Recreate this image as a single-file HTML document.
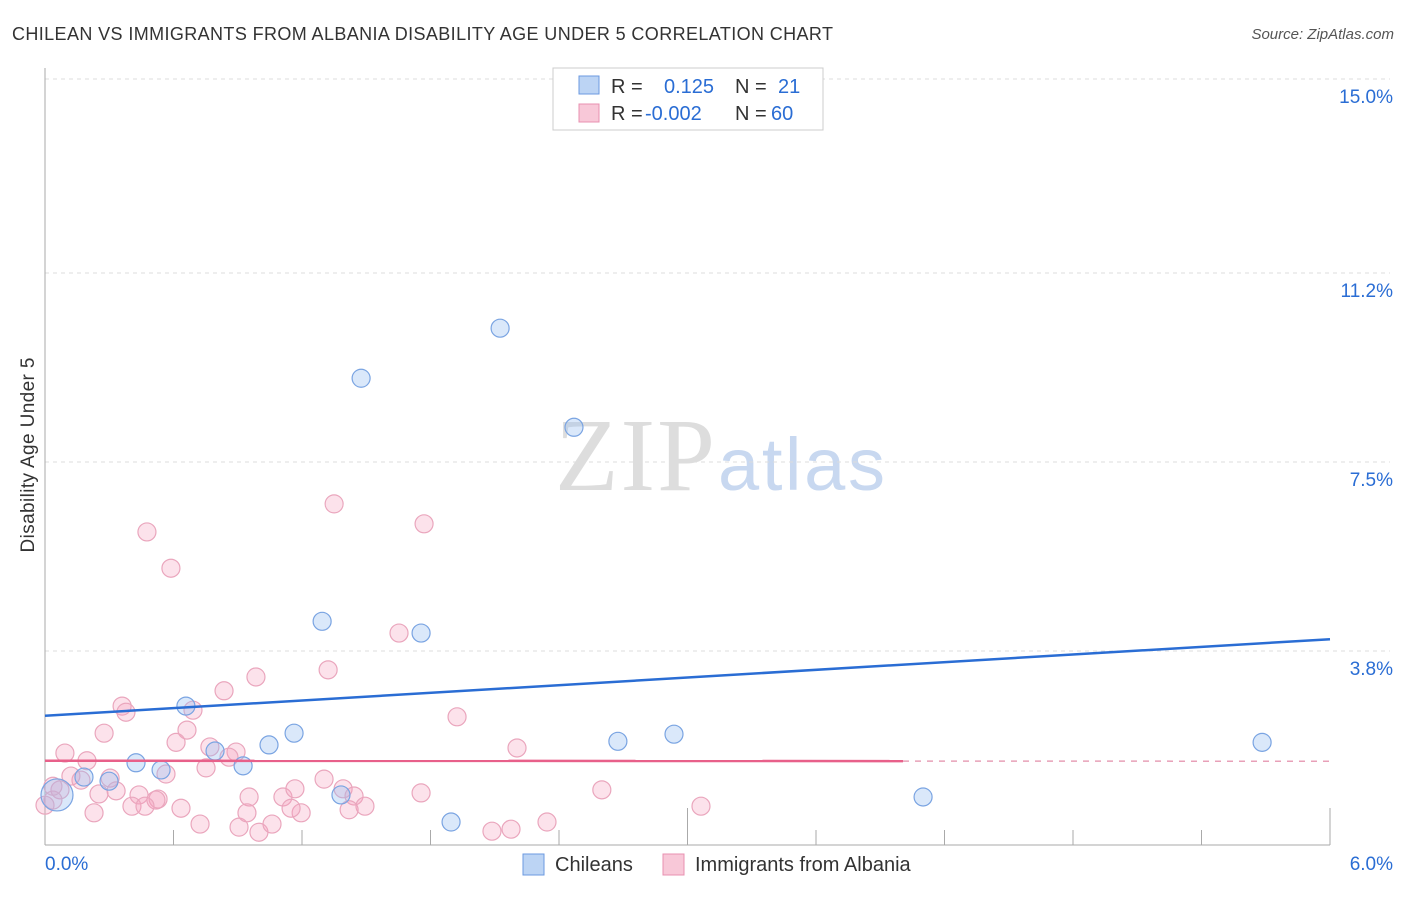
<!DOCTYPE html>
<html><head><meta charset="utf-8"><style>
body{margin:0;background:#fff;font-family:"Liberation Sans",sans-serif}
#c{position:relative;width:1406px;height:892px}
</style></head><body>
<div id="c">
<svg id="s" width="1406" height="892" xmlns="http://www.w3.org/2000/svg">
<text x="12" y="40" font-size="18" fill="#333" textLength="821">CHILEAN VS IMMIGRANTS FROM ALBANIA DISABILITY AGE UNDER 5 CORRELATION CHART</text>
<text x="1394" y="39" font-size="15" fill="#555" font-style="italic" text-anchor="end">Source: ZipAtlas.com</text>
<text x="34" y="455" font-size="19" fill="#333" text-anchor="middle" textLength="195" transform="rotate(-90 34 455)">Disability Age Under 5</text>
<text x="715" y="490" font-size="104" fill="#ddd" font-family="Liberation Serif,serif" text-anchor="end" textLength="160">ZIP</text>
<text x="718" y="490" font-size="74" fill="#c8d8f0" text-anchor="start" textLength="167">atlas</text>
<g id="grid"></g><g id="axes"></g><g id="pts"></g><g id="lines"></g>
<g>
<rect x="553" y="68" width="270" height="62" fill="#fff" stroke="#ccc"/>
<rect x="579" y="76" width="20" height="18" fill="#bcd4f4" stroke="#6b9ae0"/>
<rect x="579" y="104" width="20" height="18" fill="#f8c8d8" stroke="#e890b0"/>
<text x="611" y="93" font-size="20" fill="#333">R =  </text><text x="664" y="93" font-size="20" fill="#2a6dd4">0.125</text>
<text x="735" y="93" font-size="20" fill="#333">N =</text><text x="778" y="93" font-size="20" fill="#2a6dd4">21</text>
<text x="611" y="120" font-size="20" fill="#333">R =</text><text x="645" y="120" font-size="20" fill="#2a6dd4">-0.002</text>
<text x="735" y="120" font-size="20" fill="#333">N =</text><text x="771" y="120" font-size="20" fill="#2a6dd4">60</text>
</g>
<g>
<rect x="523" y="854" width="21" height="21" fill="#bcd4f4" stroke="#6b9ae0"/>
<text x="555" y="871" font-size="20" fill="#333">Chileans</text>
<rect x="663" y="854" width="21" height="21" fill="#f8c8d8" stroke="#e890b0"/>
<text x="695" y="871" font-size="20" fill="#333">Immigrants from Albania</text>
</g>
</svg></div>
<script>
const yTicks=[3.8,7.5,11.2,15.0];
const yTickLabels=["3.8%","7.5%","11.2%","15.0%"];
const xLabels=["0.0%","6.0%"];
const blueX=[2.125,1.476,2.470,1.294,1.756,0.658,1.163,1.046,0.794,0.425,0.542,0.925,0.182,0.299,1.382,2.675,2.937,5.683,4.100,1.896,0.056];
const blueY=[10.12,9.14,8.18,4.38,4.15,2.72,2.19,1.96,1.84,1.61,1.47,1.55,1.33,1.25,0.98,2.03,2.17,2.01,0.94,0.45,0.98];
const blueR=[9,9,9,9,9,9,9,9,9,9,9,9,9,9,9,9,9,9,9,9,16];
const pinkX=[0.476,1.350,1.770,0.588,1.653,1.322,0.985,0.836,0.360,0.378,0.691,1.924,0.276,0.663,0.612,0.770,0.892,2.204,0.093,0.196,0.859,0.752,0.565,0.121,0.304,0.168,0.070,0.037,0.252,0.439,0.332,0.528,0.518,0.406,0.467,0.635,0.953,1.111,1.167,1.303,1.392,1.443,1.494,1.420,1.756,2.600,3.063,0.229,0.724,0.906,0.999,1.060,1.196,1.149,0.943,2.087,2.176,2.344,0.037,0.0];
const pinkY=[6.13,6.68,6.29,5.42,4.15,3.43,3.29,3.02,2.72,2.60,2.64,2.51,2.19,2.25,2.01,1.92,1.82,1.90,1.80,1.65,1.72,1.51,1.39,1.35,1.31,1.27,1.08,0.88,1.00,0.98,1.06,0.90,0.88,0.76,0.76,0.72,0.94,0.94,1.10,1.29,1.10,0.96,0.76,0.69,1.02,1.08,0.76,0.63,0.41,0.35,0.25,0.41,0.63,0.72,0.63,0.27,0.31,0.45,1.15,0.78];
const blueTrend=[2.53,4.03];
const pinkTrend=[1.65,1.64];
const X0=45,X1=1330,Y0=845,YT=79;
const xs=v=>X0+v/6*(X1-X0);
const ys=v=>Y0-v/15*(Y0-YT);
const NS="http://www.w3.org/2000/svg";
function mk(t,a,p){const e=document.createElementNS(NS,t);for(const k in a)e.setAttribute(k,a[k]);document.getElementById(p).appendChild(e);return e;}
yTicks.forEach((t,i)=>{
 const l=mk('line',{x1:X0,x2:X1+60,y1:ys(t),y2:ys(t),stroke:'#ddd','stroke-dasharray':'4,4'},'grid');
 
 
 const tx=mk('text',{x:1393,y:ys(t)+24,'font-size':19,fill:'#2a6dd4','text-anchor':'end'},'grid');
 tx.textContent=yTickLabels[i];
 
 
});
mk('line',{x1:X0,x2:X0,y1:68,y2:Y0,stroke:'#aaa'},'axes');
mk('line',{x1:X0,x2:X1,y1:Y0,y2:Y0,stroke:'#aaa'},'axes');
for(let i=1;i<=10;i++){const x=X0+i*(X1-X0)/10;const tall=(i==5||i==10);
 const t=mk('line',{x1:x,x2:x,y1:tall?808:830,y2:Y0,stroke:'#aaa'},'axes');
 
 }
const xl0=mk('text',{x:45,y:870,'font-size':19,fill:'#2a6dd4'},'axes');xl0.textContent=xLabels[0];


const xl1=mk('text',{x:1393,y:870,'font-size':19,fill:'#2a6dd4','text-anchor':'end'},'axes');xl1.textContent=xLabels[1];


pinkX.forEach((v,i)=>{const c=mk('circle',{cx:xs(v),cy:ys(pinkY[i]),r:9,fill:'rgba(244,160,190,0.3)',stroke:'#eaa6bd','stroke-width':1.2},'pts');
 
 });
blueX.forEach((v,i)=>{const c=mk('circle',{cx:xs(v),cy:ys(blueY[i]),r:blueR[i],fill:'rgba(150,190,240,0.35)',stroke:'#7aa4e2','stroke-width':1.2},'pts');
 
 });
const bl=mk('line',{x1:X0,x2:X1,y1:ys(blueTrend[0]),y2:ys(blueTrend[1]),stroke:'#2a6dd4','stroke-width':2.5},'lines');


const xm=903,fm=(xm-X0)/(X1-X0),pm=pinkTrend[0]+(pinkTrend[1]-pinkTrend[0])*fm;
const pl=mk('line',{x1:X0,x2:xm,y1:ys(pinkTrend[0]),y2:ys(pm),stroke:'#e8608a','stroke-width':2.5},'lines');


const pd=mk('line',{x1:xm,x2:X1,y1:ys(pm),y2:ys(pinkTrend[1]),stroke:'#e8a0b8','stroke-width':1.5,'stroke-dasharray':'6,6'},'lines');


</script>
</body></html>
